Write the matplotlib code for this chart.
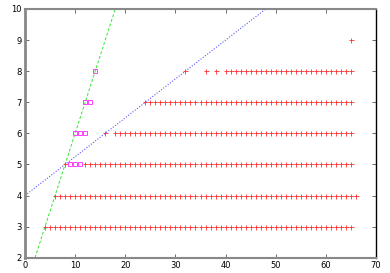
import matplotlib
matplotlib.use("Agg")
import matplotlib.pyplot as plt

# red points: for each y level, the runs of integer x values (start, end inclusive)
red_rows = {
    3: [(4, 65)],
    4: [(6, 66)],
    5: [(8, 8), (12, 65)],
    6: [(16, 16), (18, 65)],
    7: [(24, 65)],
    8: [(32, 32), (36, 36), (38, 38), (40, 65)],
    9: [(65, 65)],
}

# pink squares
sq_x = [9, 10, 11, 10, 11, 12, 12, 13, 14]
sq_y = [5, 5, 5, 6, 6, 6, 7, 7, 8]

# lines (end points)
blue_x = [0, 48]
blue_y = [4, 10]
green_x = [2, 18]
green_y = [2, 10]

xticks = [0, 10, 20, 30, 40, 50, 60, 70]
yticks = [2, 3, 4, 5, 6, 7, 8, 9, 10]

red_x = []
red_y = []
for y, runs in red_rows.items():
    for a, b in runs:
        for x in range(a, b + 1):
            red_x.append(x)
            red_y.append(y)

fig = plt.figure(figsize=(3.9, 2.73), dpi=100)
ax = fig.add_axes([25/390, 1 - 257.7/273, 351/390, 248.7/273])

ax.plot(green_x, green_y, color='#00e000', lw=0.7, ls=(0, (3, 2)), alpha=0.8)
ax.plot(blue_x, blue_y, color='#3030ff', lw=0.8, ls=(0, (1, 1.5)), alpha=0.8)
ax.plot(red_x, red_y, ls='none', marker='+', color='#ff3030', ms=3.6, mew=0.6)
ax.plot(sq_x, sq_y, ls='none', marker='s', mfc='none', mec='#ff40ff', ms=3.3, mew=0.7)

ax.set_xlim(0, 70)
ax.set_ylim(2, 10)
ax.set_xticks(xticks)
ax.set_yticks(yticks)
ax.tick_params(direction='in', length=3, width=0.6, labelsize=6,
               top=True, right=True, pad=2.5, color='#555555')
for s in ['left', 'top', 'bottom']:
    ax.spines[s].set_color('#888888')
ax.spines['left'].set_linewidth(2)
ax.spines['top'].set_linewidth(1.5)
ax.spines['bottom'].set_linewidth(1.5)
ax.spines['right'].set_color('black')
ax.spines['right'].set_linewidth(1)

fig.savefig('out.png', dpi=100)
